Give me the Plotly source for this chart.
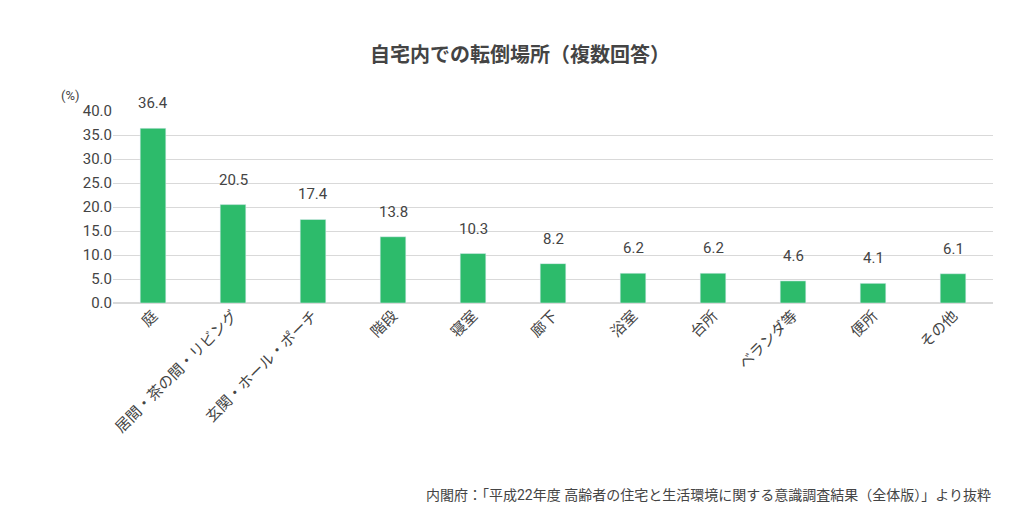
import plotly.graph_objects as go

places = ["庭", "居間・茶の間・リビング", "玄関・ホール・ポーチ", "階段", "寝室", "廊下",
          "浴室", "台所", "ベランダ等", "便所", "その他"]
rates = [36.4, 20.5, 17.4, 13.8, 10.3, 8.2, 6.2, 6.2, 4.6, 4.1, 6.1]
y_ticks = [0, 5, 10, 15, 20, 25, 30, 35, 40]

FONT = "Roboto, Noto Sans CJK JP"

fig = go.Figure(go.Bar(x=places, y=rates, marker_color="#2dbb6b", width=0.32))

# value labels above bars
notes = [dict(x=p, y=v, text=f"{v:.1f}", showarrow=False, yanchor="bottom", yshift=14,
              font=dict(size=15, color="#444")) for p, v in zip(places, rates)]
notes += [
    dict(text="(%)", x=-0.035, y=1.03, xref="paper", yref="paper",
         xanchor="right", yanchor="bottom", showarrow=False,
         font=dict(size=13, color="#444")),
    dict(text="内閣府：「平成22年度 高齢者の住宅と生活環境に関する意識調査結果（全体版）」より抜粋",
         x=1.0, y=-1.0, xref="paper", yref="paper", xanchor="right", yanchor="middle",
         showarrow=False, font=dict(size=14, color="#444")),
]

fig.update_layout(
    width=1024, height=525,
    margin=dict(l=105, r=39, t=103, b=230),
    paper_bgcolor="white", plot_bgcolor="white",
    font=dict(family=FONT, color="#444"),
    title=dict(text="<b>自宅内での転倒場所（複数回答）</b>", x=0.5, y=0.91,
               xanchor="center", yanchor="middle", font=dict(size=20, color="#444")),
    showlegend=False,
    xaxis=dict(tickangle=-45, tickfont=dict(size=15, color="#444"), showline=False),
    yaxis=dict(range=[0, 40], tickvals=y_ticks, ticktext=[f"{v:.1f}" for v in y_ticks],
               gridcolor="#d9d9d9", zeroline=True, zerolinecolor="#d9d9d9",
               tickfont=dict(size=15, color="#444")),
    annotations=notes,
)

fig.write_html("out.html")
